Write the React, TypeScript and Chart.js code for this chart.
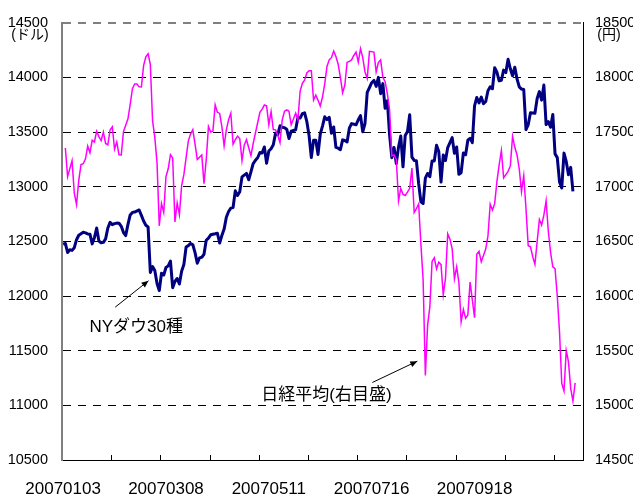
import React, { useEffect, useRef } from "react";
import { Chart, registerables } from "chart.js";

Chart.register(...registerables);

// ---- categories: weekdays (union of NY / Tokyo trading days), 2007 ----
const daysJan = [3, 4, 5, 8, 9, 10, 11, 12, 15, 16, 17, 18, 19, 22, 23, 24, 25, 26, 29, 30, 31];
const daysFeb = [1, 2, 5, 6, 7, 8, 9, 12, 13, 14, 15, 16, 19, 20, 21, 22, 23, 26, 27, 28];
const daysMar = [1, 2, 5, 6, 7, 8, 9, 12, 13, 14, 15, 16, 19, 20, 21, 22, 23, 26, 27, 28, 29, 30];
const daysApr = [2, 3, 4, 5, 6, 9, 10, 11, 12, 13, 16, 17, 18, 19, 20, 23, 24, 25, 26, 27, 30];
const daysMay = [1, 2, 3, 4, 7, 8, 9, 10, 11, 14, 15, 16, 17, 18, 21, 22, 23, 24, 25, 28, 29, 30, 31];
const daysJun = [1, 4, 5, 6, 7, 8, 11, 12, 13, 14, 15, 18, 19, 20, 21, 22, 25, 26, 27, 28, 29];
const daysJul = [2, 3, 4, 5, 6, 9, 10, 11, 12, 13, 16, 17, 18, 19, 20, 23, 24, 25, 26, 27, 30, 31];
const daysAug = [1, 2, 3, 6, 7, 8, 9, 10, 13, 14, 15, 16, 17, 20, 21, 22, 23, 24, 27, 28, 29, 30, 31];
const daysSep = [3, 4, 5, 6, 7, 10, 11, 12, 13, 14, 17, 18, 19, 20, 21, 24, 25, 26, 27, 28];
const daysOct = [1, 2, 3, 4, 5, 8, 9, 10, 11, 12, 15, 16, 17, 18, 19, 22, 23, 24, 25, 26, 29, 30, 31];
const daysNov = [1, 2, 5, 6, 7, 8, 9, 12, 13, 14, 15, 16, 19, 20, 21, 22, 23];

const monthDays: [string, number[]][] = [
  ["01", daysJan], ["02", daysFeb], ["03", daysMar], ["04", daysApr], ["05", daysMay],
  ["06", daysJun], ["07", daysJul], ["08", daysAug], ["09", daysSep], ["10", daysOct], ["11", daysNov],
];
const categories: string[] = monthDays.flatMap(([m, days]) =>
  days.map((d) => `2007${m}${d < 10 ? "0" + d : d}`)
);

// tick labels shown on the category axis
const shownDateLabels = ["20070103", "20070308", "20070511", "20070716", "20070918"];

// ---- NY Dow 30 (left axis, USD) ----
const dowJan = [12475, 12481, 12398, 12423, 12417, 12442, 12515, 12556, null, 12583, 12577, 12568, 12566, 12477, 12534, 12622, 12503, 12487, 12491, 12523, 12622];
const dowFeb = [12674, 12653, 12662, 12667, 12666, 12638, 12581, 12553, 12655, 12742, 12765, 12768, null, 12787, 12738, 12686, 12647, 12632, 12216, 12269];
const dowMar = [12234, 12114, 12050, 12208, 12192, 12261, 12276, 12319, 12076, 12133, 12160, 12110, 12226, 12288, 12448, 12461, 12481, 12469, 12397, 12300, 12349, 12354];
const dowApr = [12382, 12510, 12530, 12560, null, 12569, 12574, 12485, 12553, 12612, 12720, 12773, 12804, 12809, 12962, 12919, 12954, 13090, 13106, 13121, 13063];
const dowMay = [13136, 13212, 13241, 13265, 13313, 13309, 13363, 13215, 13326, 13347, 13384, 13488, 13477, 13557, 13543, 13540, 13526, 13441, 13507, null, 13521, 13633, 13628];
const dowJun = [13668, 13676, 13595, 13467, 13267, 13424, 13425, 13295, 13482, 13554, 13639, 13613, 13635, 13489, 13546, 13360, 13352, 13338, 13428, 13422, 13409];
const dowJul = [13535, 13577, null, 13566, 13612, 13650, 13502, 13578, 13862, 13907, 13951, 13972, 13918, 14000, 13851, 13943, 13717, 13786, 13474, 13265, 13358, 13212];
const dowAug = [13362, 13463, 13182, 13469, 13504, 13658, 13271, 13240, 13237, 13029, 12861, 12846, 13079, 13121, 13091, 13236, 13236, 13379, 13322, 13042, 13289, 13239, 13358];
const dowSep = [null, 13449, 13305, 13363, 13113, 13128, 13308, 13292, 13425, 13443, 13403, 13739, 13816, 13767, 13820, 13759, 13779, 13878, 13913, 13896];
const dowOct = [14088, 14047, 13968, 13974, 14066, 14044, 14165, 14079, 14015, 14093, 13985, 13913, 13893, 13889, 13522, 13567, 13676, 13675, 13672, 13807, 13870, 13792, 13930];
const dowNov = [13568, 13595, 13543, 13661, 13300, 13266, 13043, 12988, 13307, 13231, 13110, 13177, 12958, null, null, null, null];

// ---- Nikkei 225 (right axis, JPY) ----
const nkJan = [null, 17354, 17092, null, 17238, 16942, 16838, 17057, 17202, 17210, 17255, 17371, 17311, 17424, 17409, 17507, 17458, 17422, 17500, 17395, 17383];
const nkFeb = [17519, 17547, 17344, 17409, 17292, 17290, 17504, null, 17621, 17752, 17897, 17940, 17939, 17913, 17912, 18109, 18188, 18215, 18120, 17604];
const nkMar = [17453, 17218, 16642, 16845, 16764, 17092, 17164, 17292, 17263, 16677, 16851, 16744, 17010, 17110, null, 17419, 17481, 17521, 17390, 17250, 17270, 17290];
const nkApr = [17028, 17245, 17550, 17500, 17510, 17750, 17680, 17670, 17550, 17373, 17520, 17612, 17672, 17388, 17430, 17462, 17440, 17238, 17380, 17430, null];
const nkMay = [17283, 17395, null, null, 17680, 17710, 17747, 17740, 17567, 17687, 17522, 17520, 17470, 17403, 17612, 17690, 17702, 17690, 17567, 17620, 17672, 17612, 17875];
const nkJun = [17945, 17975, 18040, 18060, 18060, 17792, 17837, 17790, 17738, 17820, 17940, 18100, 18160, 18180, 18240, 18190, 18120, 18000, 17860, 17930, 18138];
const nkJul = [18146, 18160, 18200, 18231, 18140, 18262, 18180, 18050, 17990, 18238, null, 18231, 18050, 18136, 18160, 18000, 17960, 17851, 17702, 17284, 17290, 17249];
const nkAug = [16871, 16984, 16930, 16920, 16950, 16985, 17170, 16764, 16800, 16842, 16476, 16148, 15274, 15732, 15900, 16316, 16350, 16249, 16310, 16287, 16012, 16161, 16569];
const nkSep = [16520, 16430, 16158, 16266, 16122, 15764, 15877, 15797, 15827, 16127, null, 15802, 16381, 16409, 16313, null, 16430, 16550, 16840, 16786];
const nkOct = [16845, 17046, 17200, 17330, 17080, null, 17140, 17190, 17460, 17360, 17290, 17160, 16955, 17100, 16800, 16460, 16450, 16360, 16290, 16500, 16700, 16650, 16740];
const nkNov = [16870, 16590, 16400, 16266, 16250, 16000, 15670, 15200, 15130, 15500, 15400, 15155, 15040, 15205, null, null, null];

const dowSeries = [...dowJan, ...dowFeb, ...dowMar, ...dowApr, ...dowMay, ...dowJun, ...dowJul, ...dowAug, ...dowSep, ...dowOct, ...dowNov];
const nikkeiSeries = [...nkJan, ...nkFeb, ...nkMar, ...nkApr, ...nkMay, ...nkJun, ...nkJul, ...nkAug, ...nkSep, ...nkOct, ...nkNov];

const TICK_EVERY = 22;

const FONT = '"Liberation Sans", "Noto Sans CJK JP", sans-serif';

// annotations in data space (category index, left-axis value)
const annotations = [
  { text: "NYダウ30種", tx: 32.7, ty: 11712, fromX: 23.3, fromY: 11898, toX: 38.2, toY: 12140 },
  { text: "日経平均(右目盛)", tx: 117.8, ty: 11092, fromX: 138.3, fromY: 11209, toX: 158.4, toY: 11404 },
];

const overlayPlugin = {
  id: "overlay",
  afterDraw(chart: any) {
    const ctx = chart.ctx as CanvasRenderingContext2D;
    const xs = chart.scales.x;
    const ys = chart.scales.y;
    const area = chart.chartArea;
    ctx.save();
    // inward tick marks on the category axis
    ctx.strokeStyle = "#000";
    ctx.lineWidth = 1;
    for (let k = TICK_EVERY; k < categories.length; k += TICK_EVERY) {
      const x = Math.round(xs.getPixelForValue(k - 0.5)) + 0.5;
      ctx.beginPath();
      ctx.moveTo(x, area.bottom);
      ctx.lineTo(x, area.bottom - 5);
      ctx.stroke();
    }
    // unit labels
    ctx.fillStyle = "#000";
    ctx.textAlign = "center";
    ctx.textBaseline = "middle";
    ctx.font = `14px ${FONT}`;
    ctx.fillText("(ドル)", 30, 35);
    ctx.fillText("(円)", 609, 35);
    // annotations
    ctx.font = `17px ${FONT}`;
    for (const a of annotations) {
      ctx.fillText(a.text, xs.getPixelForValue(a.tx), ys.getPixelForValue(a.ty));
      const x1 = xs.getPixelForValue(a.fromX);
      const y1 = ys.getPixelForValue(a.fromY);
      const x2 = xs.getPixelForValue(a.toX);
      const y2 = ys.getPixelForValue(a.toY);
      ctx.lineWidth = 1;
      ctx.beginPath();
      ctx.moveTo(x1, y1);
      ctx.lineTo(x2, y2);
      ctx.stroke();
      const ang = Math.atan2(y2 - y1, x2 - x1);
      const L = 7, W = 3;
      ctx.beginPath();
      ctx.moveTo(x2, y2);
      ctx.lineTo(x2 - L * Math.cos(ang) + W * Math.sin(ang), y2 - L * Math.sin(ang) - W * Math.cos(ang));
      ctx.lineTo(x2 - L * Math.cos(ang) - W * Math.sin(ang), y2 - L * Math.sin(ang) + W * Math.cos(ang));
      ctx.closePath();
      ctx.fill();
    }
    ctx.restore();
  },
};

const plainNumber = (v: any) => String(v);

export default function App() {
  const canvasRef = useRef<HTMLCanvasElement | null>(null);

  useEffect(() => {
    if (!canvasRef.current) return;
    const chart = new Chart(canvasRef.current, {
      type: "line",
      data: {
        labels: categories,
        datasets: [
          {
            label: "日経平均",
            data: nikkeiSeries,
            yAxisID: "y1",
            borderColor: "#FF00FF",
            backgroundColor: "#FF00FF",
            borderWidth: 1.5,
            pointRadius: 0,
            spanGaps: true,
            tension: 0,
            order: 0,
          },
          {
            label: "NYダウ30種",
            data: dowSeries,
            yAxisID: "y",
            borderColor: "#000080",
            backgroundColor: "#000080",
            borderWidth: 3,
            borderJoinStyle: "round",
            pointRadius: 0,
            spanGaps: true,
            tension: 0,
            order: 1,
          },
        ],
      },
      options: {
        animation: false,
        responsive: false,
        maintainAspectRatio: false,
        devicePixelRatio: 1,
        layout: { padding: { top: 14, left: 0, right: 0, bottom: 0 } },
        plugins: { legend: { display: false }, tooltip: { enabled: false } },
        scales: {
          x: {
            type: "category",
            offset: true,
            grid: { display: false, drawTicks: false },
            border: { display: true, color: "#000", width: 1 },
            ticks: {
              autoSkip: false,
              maxRotation: 0,
              minRotation: 0,
              padding: 19,
              color: "#000",
              font: { family: FONT, size: 17 },
            },
            afterBuildTicks: (s: any) => {
              s.ticks = s.ticks.filter((t: any) => shownDateLabels.includes(categories[t.value]));
            },
            afterFit: (s: any) => {
              s.height = 37;
            },
          },
          y: {
            position: "left",
            min: 10500,
            max: 14500,
            ticks: { stepSize: 500, padding: 14, color: "#000", font: { family: FONT, size: 14.5 }, callback: plainNumber },
            grid: {
              drawTicks: false,
              color: (c: any) =>
                c.tick && c.tick.value === 10500 ? "rgba(0,0,0,0)" : c.tick && c.tick.value === 14500 ? "#808080" : "#000",
              lineWidth: (c: any) => (c.tick && c.tick.value === 14500 ? 2 : 1),
            },
            border: { color: "#808080", width: 2, dash: [8, 7] },
            afterFit: (s: any) => {
              s.width = 62;
            },
          },
          y1: {
            position: "right",
            min: 14500,
            max: 18500,
            ticks: { stepSize: 500, padding: 12, color: "#000", font: { family: FONT, size: 14.5 }, callback: plainNumber },
            grid: { drawOnChartArea: false, drawTicks: false },
            border: { color: "#000", width: 1 },
            afterFit: (s: any) => {
              s.width = 50;
            },
          },
        },
      },
      plugins: [overlayPlugin],
    } as any);
    return () => chart.destroy();
  }, []);

  return (
    <div style={{ position: "fixed", left: 0, top: 0, width: 633, height: 497, background: "#fff" }}>
      <canvas ref={canvasRef} width={633} height={497} style={{ width: 633, height: 497, display: "block" }} />
    </div>
  );
}
